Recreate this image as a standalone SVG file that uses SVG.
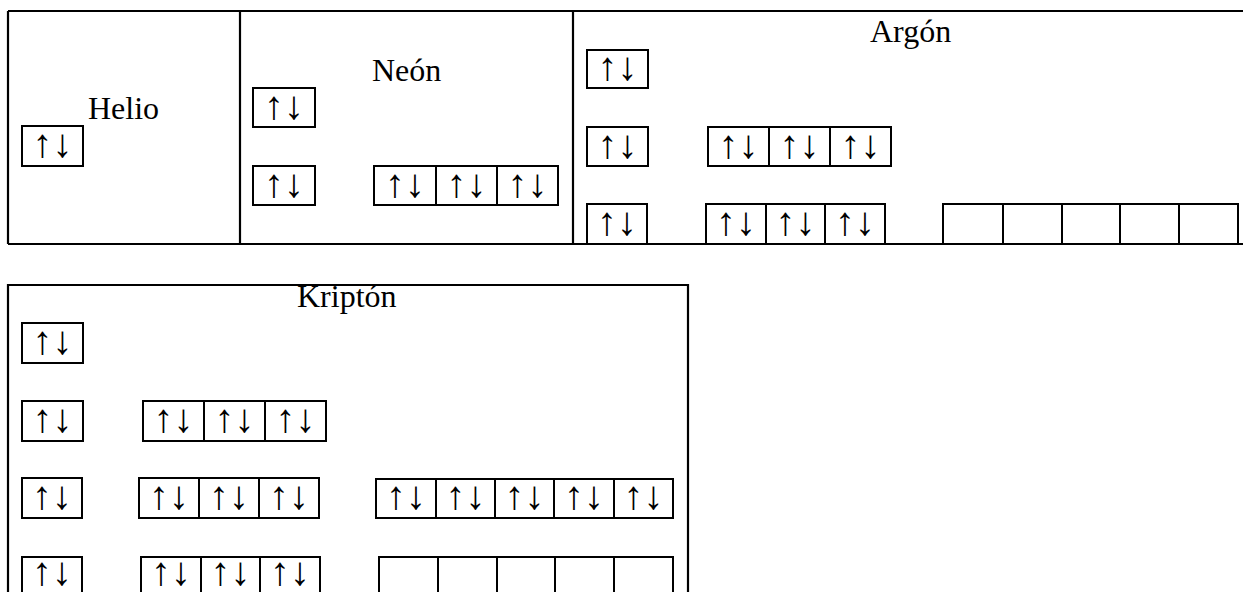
<svg xmlns="http://www.w3.org/2000/svg" width="1243" height="592" viewBox="0 0 1243 592">
<style>
.frame{stroke:#000;stroke-width:2.2;fill:none}
.cell{stroke:#000;stroke-width:2;fill:none}
.title{font-family:"Liberation Serif",serif;font-size:32px;fill:#000}
.e{font-family:"Liberation Sans",sans-serif;font-size:40px;fill:#000;text-anchor:middle}
</style>
<rect width="1243" height="592" fill="#fff"/>
<g id="frames">
<path class="frame" d="M8 11H1243M8 244H1243M8 11V244M240 11V244M573 11V244"/>
<path class="frame" d="M8 592V285H688V592"/>
</g>
<g id="helio">
<text class="title" x="88" y="119">Helio</text>
<rect class="cell" x="22" y="126" width="61" height="40"/><text class="e" x="52.5" y="157">↑↓</text>
</g>
<g id="neon">
<text class="title" x="372" y="81">Neón</text>
<rect class="cell" x="253" y="88" width="62" height="39"/><text class="e" x="284" y="118.5">↑↓</text>
<rect class="cell" x="253" y="166" width="62" height="39"/><text class="e" x="284" y="196.5">↑↓</text>
<rect class="cell" x="374" y="166" width="62" height="39"/><text class="e" x="405" y="196.5">↑↓</text>
<rect class="cell" x="436" y="166" width="61" height="39"/><text class="e" x="466.5" y="196.5">↑↓</text>
<rect class="cell" x="497" y="166" width="61" height="39"/><text class="e" x="527.5" y="196.5">↑↓</text>
</g>
<g id="argon">
<text class="title" x="870" y="42">Argón</text>
<rect class="cell" x="587" y="50" width="61" height="38"/><text class="e" x="617.5" y="80">↑↓</text>
<rect class="cell" x="587" y="127" width="61" height="39"/><text class="e" x="617.5" y="157.5">↑↓</text>
<rect class="cell" x="708" y="127" width="61" height="39"/><text class="e" x="738.5" y="157.5">↑↓</text>
<rect class="cell" x="769" y="127" width="61" height="39"/><text class="e" x="799.5" y="157.5">↑↓</text>
<rect class="cell" x="830" y="127" width="61" height="39"/><text class="e" x="860.5" y="157.5">↑↓</text>
<rect class="cell" x="587" y="204" width="60" height="40"/><text class="e" x="617" y="235">↑↓</text>
<rect class="cell" x="706" y="204" width="60" height="40"/><text class="e" x="736" y="235">↑↓</text>
<rect class="cell" x="766" y="204" width="59" height="40"/><text class="e" x="795.5" y="235">↑↓</text>
<rect class="cell" x="825" y="204" width="60" height="40"/><text class="e" x="855" y="235">↑↓</text>
<rect class="cell" x="943" y="204" width="60" height="40"/>
<rect class="cell" x="1003" y="204" width="59" height="40"/>
<rect class="cell" x="1062" y="204" width="58" height="40"/>
<rect class="cell" x="1120" y="204" width="59" height="40"/>
<rect class="cell" x="1179" y="204" width="59" height="40"/>
</g>
<g id="kripton">
<text class="title" x="297" y="307">Kriptón</text>
<rect class="cell" x="22" y="323" width="61" height="40"/><text class="e" x="52.5" y="354">↑↓</text>
<rect class="cell" x="22" y="401" width="61" height="40"/><text class="e" x="52.5" y="432">↑↓</text>
<rect class="cell" x="143" y="401" width="61" height="40"/><text class="e" x="173.5" y="432">↑↓</text>
<rect class="cell" x="204" y="401" width="61" height="40"/><text class="e" x="234.5" y="432">↑↓</text>
<rect class="cell" x="265" y="401" width="61" height="40"/><text class="e" x="295.5" y="432">↑↓</text>
<rect class="cell" x="22" y="478" width="60" height="40"/><text class="e" x="52" y="509">↑↓</text>
<rect class="cell" x="139" y="478" width="60" height="40"/><text class="e" x="169" y="509">↑↓</text>
<rect class="cell" x="199" y="478" width="60" height="40"/><text class="e" x="229" y="509">↑↓</text>
<rect class="cell" x="259" y="478" width="60" height="40"/><text class="e" x="289" y="509">↑↓</text>
<rect class="cell" x="376" y="479" width="60" height="39"/><text class="e" x="406" y="509">↑↓</text>
<rect class="cell" x="436" y="479" width="59" height="39"/><text class="e" x="465.5" y="509">↑↓</text>
<rect class="cell" x="495" y="479" width="59" height="39"/><text class="e" x="524.5" y="509">↑↓</text>
<rect class="cell" x="554" y="479" width="60" height="39"/><text class="e" x="584" y="509">↑↓</text>
<rect class="cell" x="614" y="479" width="59" height="39"/><text class="e" x="643.5" y="509">↑↓</text>
<rect class="cell" x="22" y="557" width="60" height="40"/><text class="e" x="52" y="585">↑↓</text>
<rect class="cell" x="141" y="557" width="60" height="40"/><text class="e" x="171" y="585">↑↓</text>
<rect class="cell" x="201" y="557" width="59" height="40"/><text class="e" x="230.5" y="585">↑↓</text>
<rect class="cell" x="260" y="557" width="60" height="40"/><text class="e" x="290" y="585">↑↓</text>
<rect class="cell" x="379" y="557" width="59" height="40"/>
<rect class="cell" x="438" y="557" width="59" height="40"/>
<rect class="cell" x="497" y="557" width="58" height="40"/>
<rect class="cell" x="555" y="557" width="59" height="40"/>
<rect class="cell" x="614" y="557" width="59" height="40"/>
</g>
</svg>
